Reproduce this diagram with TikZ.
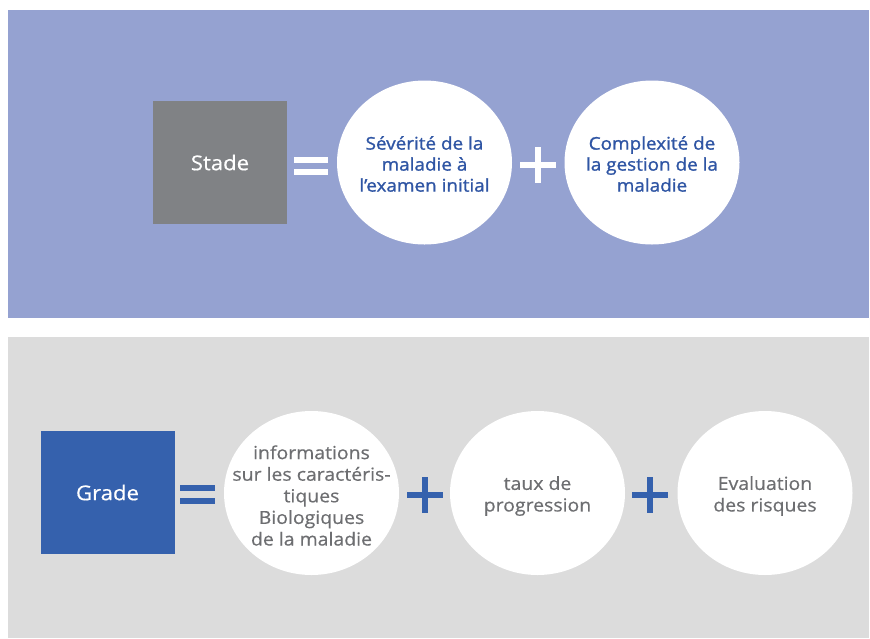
\documentclass[tikz,border=0pt]{standalone}
\usepackage{fontspec}
\setmainfont{Open Sans}
\newfontfamily\semifont[FakeBold=1.2,FakeStretch=1.08]{Open Sans}
\newfontfamily\widefont[FakeBold=0.5,FakeStretch=1.08]{Open Sans}
\usetikzlibrary{shapes.geometric}
\definecolor{bgpurple}{HTML}{95A2D1}
\definecolor{bggray}{HTML}{DCDCDC}
\definecolor{stadegray}{HTML}{808285}
\definecolor{gradeblue}{HTML}{3561AD}
\definecolor{toptext}{HTML}{2F55A4}
\definecolor{bottext}{HTML}{6D6E71}
\begin{document}
\begin{tikzpicture}[x=1pt,y=-1pt,
  keybox/.style={rectangle, minimum width=134pt, minimum height=123pt, inner sep=0pt, text=white, font=\widefont\fontsize{20.5}{24}\selectfont},
  bubble/.style={ellipse, fill=white, minimum width=175pt, minimum height=164pt, inner sep=0pt},
  bubtext/.style={inner sep=0pt, align=center},
  toptxt/.style={bubtext, text=toptext, font=\semifont\fontsize{17.5}{21}\selectfont},
  bottxt/.style={bubtext, text=bottext, font=\widefont\fontsize{18}{21.6}\selectfont}
]
\useasboundingbox (0,0) rectangle (870,638);
\fill[white] (0,0) rectangle (870,638);
% panels
\fill[bgpurple] (8,10) rectangle (869,318);
\fill[bggray] (8,337) rectangle (869,638);
% top row
\node[keybox, fill=stadegray] (stade) at (220,162.5) {Stade};
\node[bubble] (sev) at (424.5,162.5) {};
\node[toptxt] (sevtxt) at ([yshift=-1.5pt]sev.center) {Sévérité de la\\maladie à\\l’examen initial};
\node[bubble] (cplx) at (652,162.5) {};
\node[toptxt] (cplxtxt) at ([yshift=-1.5pt]cplx.center) {Complexité de\\la gestion de la\\maladie};
% top equals
\fill[white] (294,157) rectangle (328,163);
\fill[white] (294,169) rectangle (328,175);
% top plus
\fill[white] (520,162) rectangle (556,168);
\fill[white] (535,147) rectangle (541,183);
% bottom row
\node[keybox, fill=gradeblue] (grade) at (107.5,492.5) {Grade};
\node[bubble] (info) at (311.5,493) {};
\node[bottxt] (infotxt) at ([yshift=-2.5pt]info.center) {informations\\sur les caractéris-\\tiques\\Biologiques\\de la maladie};
\node[bubble] (taux) at (537.5,493) {};
\node[bottxt] (tauxtxt) at ([yshift=-3pt]taux.center) {taux de\\progression};
\node[bubble] (eval) at (765,493) {};
\node[bottxt] (evaltxt) at ([yshift=-3pt]eval.center) {Evaluation\\des risques};
% bottom equals
\fill[gradeblue] (180,485) rectangle (215,491);
\fill[gradeblue] (180,498) rectangle (215,504);
% bottom plus
\fill[gradeblue] (407,492) rectangle (443,498);
\fill[gradeblue] (422,477) rectangle (428,513);
\fill[gradeblue] (632,492) rectangle (668,498);
\fill[gradeblue] (647,477) rectangle (653,513);
\end{tikzpicture}
\end{document}
